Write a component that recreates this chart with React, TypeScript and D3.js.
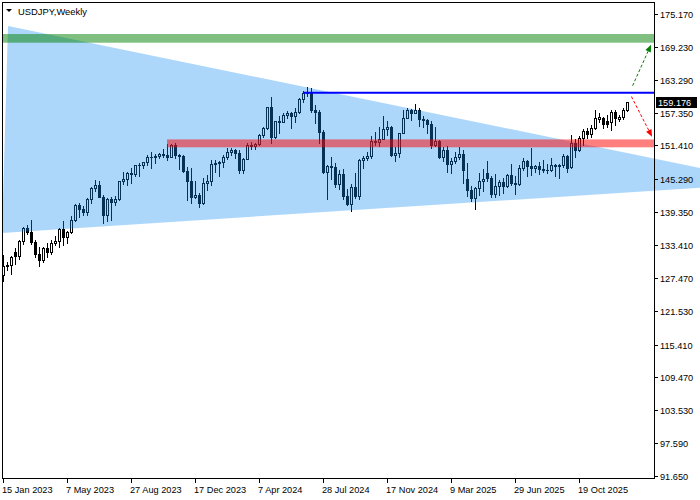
import React from 'react';
import * as d3 from 'd3';

// ---- data ----
const xTickIndex = [0, 16, 32, 48, 64, 80, 96, 112, 128, 144];
const xTickLabels = ['15 Jan 2023', '7 May 2023', '27 Aug 2023', '17 Dec 2023', '7 Apr 2024', '28 Jul 2024', '17 Nov 2024', '9 Mar 2025', '29 Jun 2025', '19 Oct 2025'];
const yTickValues = [175.17, 169.23, 163.29, 157.35, 151.41, 145.29, 139.35, 133.41, 127.47, 121.53, 115.41, 109.47, 103.53, 97.59, 91.65];

const opens = [127.9,129.55,129.85,132.2,131.4,134.1,136.4,135.85,134.0,131.8,130.7,132.8,132.1,133.8,134.2,136.3,134.85,135.7,137.9,140.6,139.9,139.4,141.8,143.7,144.3,142.1,138.8,141.8,141.2,141.75,144.95,145.4,146.4,146.2,147.8,147.85,148.35,149.35,149.3,149.55,149.85,149.65,149.4,151.5,149.6,149.45,146.8,144.95,142.15,142.4,141.0,144.6,144.9,148.1,148.15,148.4,149.3,150.2,150.5,150.1,147.05,149.0,151.4,151.35,151.6,153.3,154.65,158.3,152.95,155.8,155.65,157.0,157.3,156.75,157.4,159.8,160.9,160.8,157.9,157.5,153.75,146.55,147.65,147.6,144.35,146.2,142.3,140.85,143.85,142.2,148.7,149.15,149.5,152.3,152.1,152.6,154.3,154.7,149.7,150.0,153.65,156.45,157.8,157.3,157.75,156.2,155.95,155.2,151.4,152.3,149.3,150.6,148.0,148.6,149.3,149.8,145.4,143.4,141.9,143.65,144.9,146.5,145.6,142.6,144.0,144.85,144.1,146.1,144.65,144.45,147.4,148.6,147.65,147.4,147.7,147.2,146.9,147.05,147.9,147.7,147.95,149.5,147.45,151.9,150.5,152.8,154.0,153.4,154.5,156.2,156.4,155.9,155.7,157.5,156.1,156.6,157.9];
const highs = [131.6,130.4,131.5,132.9,134.35,136.6,137.0,137.9,134.3,133.0,133.0,133.8,134.3,135.1,136.5,137.8,136.0,138.7,140.9,141.0,140.4,141.9,143.9,145.1,144.9,142.4,141.9,142.0,142.3,145.0,146.6,146.6,147.4,147.9,148.2,148.45,149.7,150.16,149.8,150.1,150.77,151.72,151.6,151.9,149.8,149.7,147.5,147.3,144.95,142.8,145.6,146.0,148.8,148.7,148.6,149.6,150.9,150.9,150.85,150.5,149.2,151.86,151.97,151.8,153.4,154.8,158.4,160.2,155.9,156.8,157.2,157.7,157.4,158.25,159.9,161.3,161.95,161.8,158.8,157.9,154.2,147.9,149.4,148.3,147.0,147.2,143.6,144.5,146.5,149.0,149.55,150.3,153.2,153.9,154.7,156.75,155.9,154.9,151.2,153.7,157.9,158.1,158.0,158.9,158.1,156.8,156.2,155.9,154.8,152.4,151.2,151.3,149.2,150.15,151.2,150.5,148.2,144.0,143.9,146.4,147.2,148.65,145.9,146.3,145.1,145.5,146.3,148.0,145.9,147.8,149.2,148.8,150.9,147.9,148.5,148.8,148.0,149.1,148.0,148.0,149.95,149.6,153.3,152.6,153.2,154.45,154.5,155.05,157.9,157.2,156.6,157.0,157.8,157.8,156.9,158.1,159.3];
const lows = [126.9,128.9,128.1,129.9,130.8,133.6,135.4,133.6,131.3,129.6,130.4,131.2,131.7,133.5,133.0,133.5,133.7,135.5,137.7,138.4,138.8,138.8,141.0,143.2,142.0,137.3,137.7,138.0,140.7,141.5,144.4,144.3,144.6,145.9,145.9,147.3,147.9,147.3,148.2,149.2,149.3,148.8,149.3,149.2,147.15,146.6,141.6,140.95,141.9,140.25,140.8,143.4,144.3,146.6,145.9,147.6,149.0,149.6,149.2,146.5,146.5,148.9,150.8,150.8,151.5,153.0,154.3,151.9,152.8,153.6,155.6,156.4,154.55,155.7,157.2,159.3,160.3,157.4,155.4,151.9,146.4,141.7,145.4,143.95,143.45,141.75,140.7,139.58,141.9,141.65,147.3,148.8,149.1,151.5,151.3,152.5,153.3,149.5,148.65,149.4,153.6,156.3,156.0,157.2,154.9,154.8,153.7,150.95,151.3,149.2,148.6,146.55,146.5,148.2,149.0,144.55,142.3,141.3,139.9,142.5,143.1,144.9,142.1,142.1,142.4,142.8,143.9,144.3,142.7,144.2,146.9,145.85,146.0,146.6,146.2,146.6,146.5,146.8,145.8,145.5,147.6,146.6,147.3,149.4,150.4,151.5,152.8,153.0,154.4,155.6,154.6,154.8,154.2,155.1,155.8,156.1,157.7];
const closes = [129.55,129.85,131.2,131.4,134.1,136.4,135.85,134.0,131.8,130.7,132.8,132.1,133.8,134.2,136.3,134.85,135.7,137.9,140.6,139.9,139.4,141.8,143.7,144.3,142.1,138.8,141.8,141.2,141.75,144.95,145.4,146.4,146.2,147.8,147.85,148.35,149.35,149.3,149.55,149.85,149.65,149.4,151.5,149.6,149.45,146.8,144.95,142.15,142.4,141.0,144.6,144.9,148.1,148.15,148.4,149.3,150.2,150.5,150.1,147.05,149.0,151.4,151.35,151.6,153.3,154.65,158.3,152.95,155.8,155.65,157.0,157.3,156.75,157.4,159.8,160.9,160.8,157.9,157.5,153.75,146.55,147.65,147.6,144.35,146.2,142.3,140.85,143.85,142.2,148.7,149.15,149.5,152.3,152.1,152.6,154.3,154.7,149.7,150.0,153.65,156.45,157.8,157.3,157.75,156.2,155.95,155.2,151.4,152.3,149.3,150.6,148.0,148.6,149.3,149.8,146.9,143.3,141.9,143.65,144.9,145.35,145.6,142.6,144.0,144.85,144.1,146.1,144.65,144.45,147.4,148.6,147.65,147.4,147.7,147.2,146.9,147.05,147.9,147.7,147.95,149.5,147.4,151.9,150.5,152.8,154.0,153.4,154.5,156.4,156.5,155.3,155.2,157.5,156.3,156.6,157.9,159.176];

// annotation objects (bar index, price)
const trianglePts: [number, number][] = [[1.25, 173.0], [-0.25, 135.6], [192.5, 144.62]];
const greenZone = { startIdx: -0.25, lo: 169.98, hi: 171.55 };
const redZone = { startIdx: 41, lo: 151.07, hi: 152.5 };
const blueLevel = { startIdx: 75, price: 160.95 };
const greenArrow = { from: [157.4, 162.2], to: [162.0, 169.6] };
const redArrow = { from: [157.1, 160.25], to: [162.25, 153.0] };
const currentPrice = 159.176;
const title = 'USDJPY,Weekly';

const FONT = "'Liberation Sans', Arial, sans-serif";

export default function App() {
  const n = opens.length;
  const x = d3.scaleLinear().domain([0, n - 1]).range([3, 3 + 4 * (n - 1)]);
  const y = d3.scaleLinear().domain([91.65, 175.17]).range([476, 14]);
  const plotL = 2, plotT = 2, plotR = 654, plotB = 478;

  const candles = opens.map((o, i) => {
    const c = closes[i], h = highs[i], l = lows[i];
    const cx = Math.round(x(i));
    const yh = Math.round(y(h)), yl = Math.round(y(l));
    const top = Math.round(y(Math.max(o, c)));
    const bot = Math.round(y(Math.min(o, c)));
    const bull = c >= o;
    return (
      <g key={i}>
        <rect x={cx} y={yh} width={1} height={Math.max(1, yl - yh + 1)} fill="#000" />
        {bull ? (
          bot - top >= 1 ? (
            <rect x={cx - 0.5} y={top + 0.5} width={2} height={bot - top} fill="#fff" stroke="#000" strokeWidth={1} />
          ) : (
            <rect x={cx - 1} y={top} width={3} height={1} fill="#000" />
          )
        ) : (
          <rect x={cx - 1} y={top} width={3} height={Math.max(1, bot - top + 1)} fill="#000" />
        )}
      </g>
    );
  });

  const triPath = d3.line()(trianglePts.map(([i, p]) => [x(i), y(p)] as [number, number])) + 'Z';

  const arrow = (a: { from: number[]; to: number[] }, color: string) => {
    const x1 = x(a.from[0]), y1 = y(a.from[1]), x2 = x(a.to[0]), y2 = y(a.to[1]);
    const ang = Math.atan2(y2 - y1, x2 - x1);
    const L = 7, Wd = 3;
    const bx = x2 - L * Math.cos(ang), by = y2 - L * Math.sin(ang);
    const px = -Math.sin(ang), py = Math.cos(ang);
    const head = `${x2},${y2} ${bx + px * Wd},${by + py * Wd} ${bx - px * Wd},${by - py * Wd}`;
    return (
      <g>
        <line x1={x1} y1={y1} x2={bx} y2={by} stroke={color} strokeWidth={1} strokeDasharray="3,2" />
        <polygon points={head} fill={color} />
      </g>
    );
  };

  const yCur = y(currentPrice);

  return (
    <svg width={700} height={500} style={{ position: 'fixed', left: 0, top: 0, background: '#fff' }} fontFamily={FONT}>
      <rect x={0} y={0} width={700} height={500} fill="#fff" />
      <defs>
        <clipPath id="plotclip">
          <rect x={plotL} y={plotT} width={plotR - plotL} height={plotB - plotT} />
        </clipPath>
      </defs>
      <g clipPath="url(#plotclip)">{candles}</g>
      <path d={triPath} fill="rgba(20,140,240,0.35)" />
      <g clipPath="url(#plotclip)">
        <rect x={x(greenZone.startIdx)} y={y(greenZone.hi)} width={plotR - x(greenZone.startIdx)} height={y(greenZone.lo) - y(greenZone.hi)} fill="rgba(0,128,0,0.5)" />
        <rect x={x(redZone.startIdx)} y={y(redZone.hi)} width={plotR - x(redZone.startIdx)} height={y(redZone.lo) - y(redZone.hi)} fill="rgba(255,0,0,0.5)" />
        <line x1={x(blueLevel.startIdx)} x2={plotR} y1={y(blueLevel.price)} y2={y(blueLevel.price)} stroke="#0000ff" strokeWidth={2} />
        {arrow(greenArrow, '#008000')}
        {arrow(redArrow, '#ff0000')}
      </g>
      <rect x={plotL + 0.5} y={plotT + 0.5} width={plotR - plotL} height={plotB - plotT} fill="none" stroke="#000" strokeWidth={1} />
      {yTickValues.map((v) => {
        const yy = Math.round(y(v));
        return (
          <g key={v}>
            <line x1={plotR + 0.5} x2={plotR + 4} y1={yy + 0.5} y2={yy + 0.5} stroke="#000" />
            <text x={660} y={yy + 4} fontSize={9.2} fill="#000">{v.toFixed(3)}</text>
          </g>
        );
      })}
      {xTickIndex.map((idx, k) => {
        const xx = Math.round(x(idx));
        return (
          <g key={idx}>
            <line x1={xx + 0.5} x2={xx + 0.5} y1={plotB + 0.5} y2={plotB + 5} stroke="#000" />
            <text x={xx - 1} y={493} fontSize={9.2} fill="#000">{xTickLabels[k]}</text>
          </g>
        );
      })}
      <rect x={656} y={Math.round(yCur) - 5} width={41} height={11} fill="#000" />
      <text x={658} y={Math.round(yCur) + 4} fontSize={9.2} fill="#fff">{currentPrice.toFixed(3)}</text>
      <polygon points="6,9 12,9 9,12" fill="#000" />
      <text x={18} y={15} fontSize={9.4} fill="#000">{title}</text>
    </svg>
  );
}
